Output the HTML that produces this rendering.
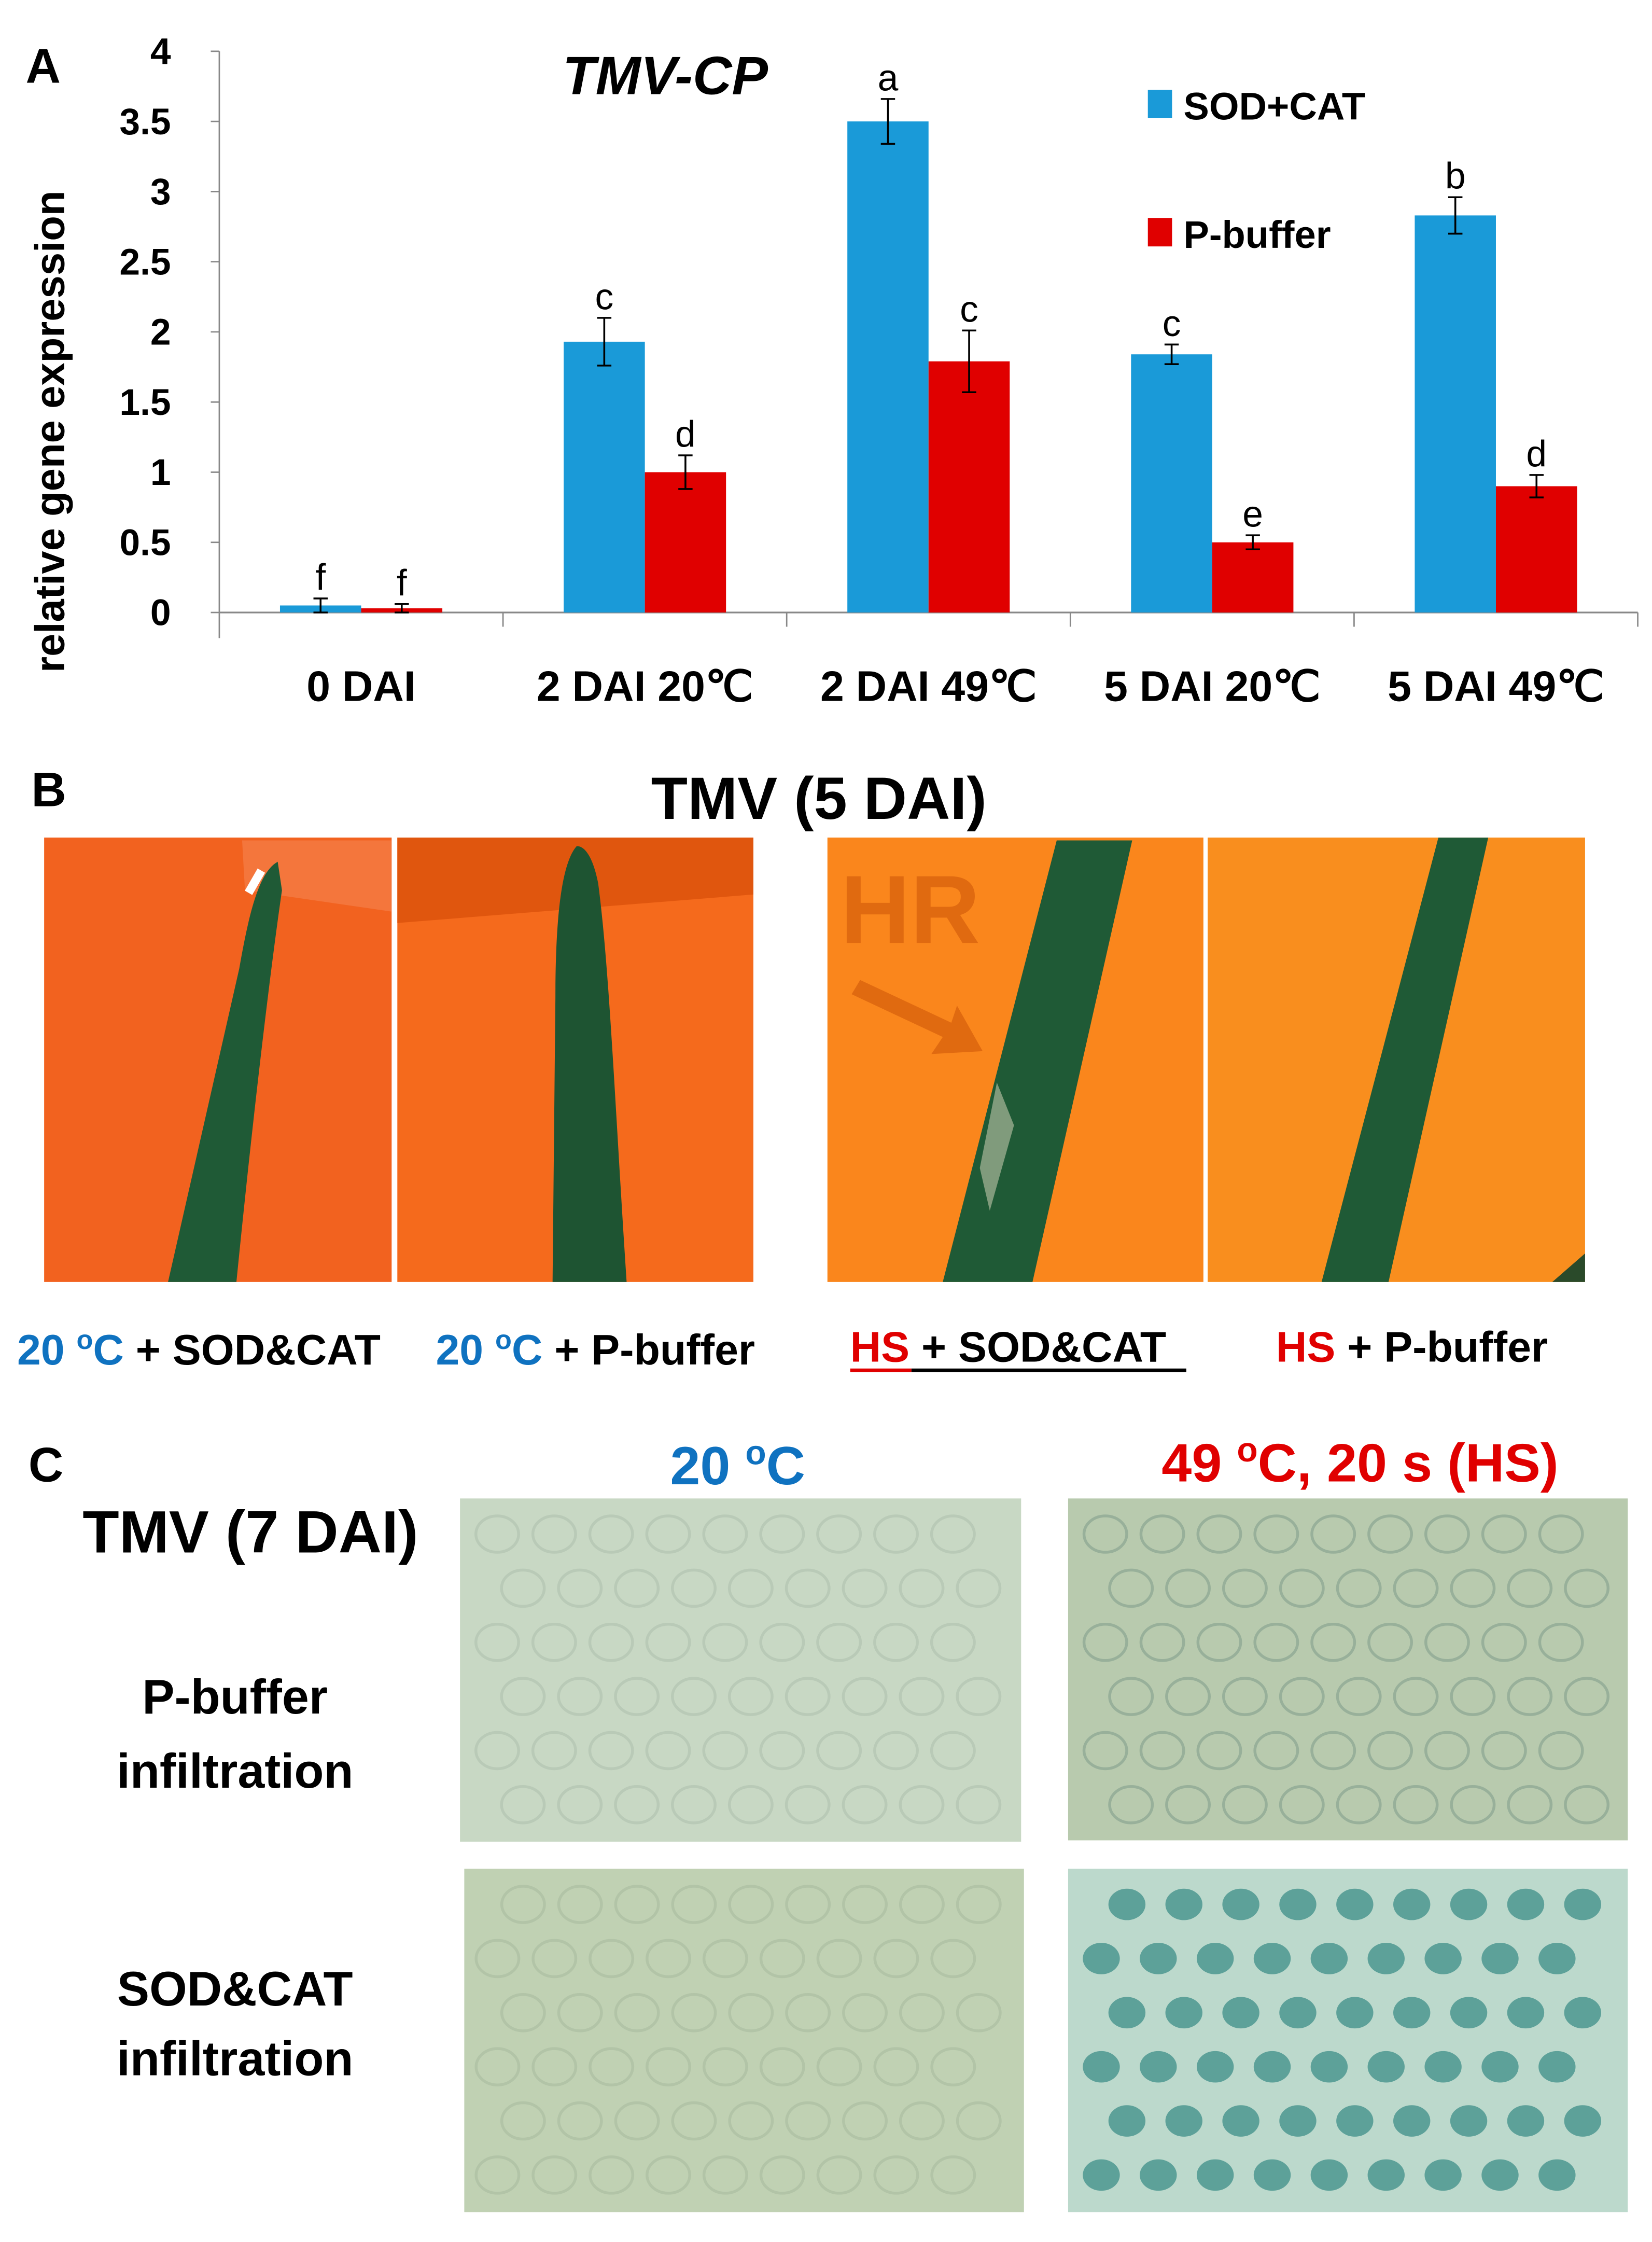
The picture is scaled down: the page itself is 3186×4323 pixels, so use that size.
<!DOCTYPE html>
<html><head><meta charset="utf-8"><style>
html,body{margin:0;padding:0;background:#fff}
svg{display:block;font-family:"Liberation Sans",sans-serif}
</style></head><body>
<svg id="fig" width="3186" height="4323" viewBox="0 0 1160 1574" preserveAspectRatio="none" xmlns="http://www.w3.org/2000/svg">
<rect width="1160" height="1574" fill="#fff"/>
<g id="chart"></g>
<text x="18" y="58" font-size="34" font-weight="bold">A</text>
<text x="395" y="66" font-size="38" font-weight="bold" font-style="italic">TMV-CP</text>
<rect x="806" y="63" width="17" height="20" fill="#1a9ad8"/>
<text x="831" y="84" font-size="27" font-weight="bold">SOD+CAT</text>
<rect x="806" y="153" width="17" height="20" fill="#e00000"/>
<text x="831" y="174" font-size="27" font-weight="bold">P-buffer</text>
<text transform="translate(45,303) rotate(-90)" text-anchor="middle" font-size="29" font-weight="bold">relative gene expression</text>

<!-- Panel B -->
<text x="22" y="566" font-size="34" font-weight="bold">B</text>
<text x="575" y="575" text-anchor="middle" font-size="42" font-weight="bold">TMV (5 DAI)</text>
<g>
<rect x="31" y="588" width="244" height="312" fill="#f2621f"/>
<polygon points="170,590 275,590 275,640 172,625" fill="#f58a5a" opacity="0.5"/>
<path d="M195,605 C182,612 175,640 168,680 L118,900 L166,900 C178,780 190,680 198,625 Z" fill="#1f5a36"/>
<rect x="176" y="610" width="6" height="18" fill="#fff" transform="rotate(30 179 619)"/>
</g>
<g>
<rect x="279" y="588" width="250" height="312" fill="#f56a1c"/>
<polygon points="279,588 529,588 529,628 279,648" fill="#e0560e"/>
<path d="M405,594 C395,605 390,640 390,700 L388,900 L440,900 C432,780 428,680 420,620 C416,600 410,594 405,594 Z" fill="#1e5432"/>
</g>
<g>
<rect x="581" y="588" width="264" height="312" fill="#fa861c"/>
<polygon points="742,590 795,590 725,900 662,900" fill="#1f5a36"/>
<polygon points="700,760 712,790 695,850 688,820" fill="#a9b69a" opacity="0.7"/>
<text x="590" y="662" font-size="68" font-weight="bold" fill="#e06a10">HR</text>
<polygon points="604,688 668,718 672,706 690,738 654,740 662,728 598,698" fill="#e06a10"/>
</g>
<g>
<rect x="848" y="588" width="265" height="312" fill="#f98e1e"/>
<polygon points="1010,588 1045,588 975,900 928,900" fill="#1f5a36"/>
<polygon points="1090,900 1113,880 1113,900" fill="#2a4a2a"/>
</g>
<text x="12" y="958" font-size="30" font-weight="bold"><tspan fill="#0f72c0">20 <tspan font-size="19" dy="-11">o</tspan><tspan dy="11">C</tspan></tspan> + SOD&amp;CAT</text>
<text x="306" y="958" font-size="30" font-weight="bold"><tspan fill="#0f72c0">20 <tspan font-size="19" dy="-11">o</tspan><tspan dy="11">C</tspan></tspan> + P-buffer</text>
<text x="597" y="956" font-size="30" font-weight="bold"><tspan fill="#e00000">HS</tspan> + SOD&amp;CAT</text>
<line x1="597" y1="962" x2="640" y2="962" stroke="#e00000" stroke-width="2.5"/>
<line x1="640" y1="962" x2="833" y2="962" stroke="#000" stroke-width="2.5"/>
<text x="896" y="956" font-size="30" font-weight="bold"><tspan fill="#e00000">HS</tspan> + P-buffer</text>

<!-- Panel C -->
<text x="20" y="1040" font-size="34" font-weight="bold">C</text>
<text x="518" y="1042" text-anchor="middle" font-size="38" font-weight="bold" fill="#0f72c0">20 <tspan font-size="24" dy="-14">o</tspan><tspan dy="14">C</tspan></text>
<text x="955" y="1040" text-anchor="middle" font-size="38" font-weight="bold" fill="#e00000">49 <tspan font-size="24" dy="-14">o</tspan><tspan dy="14">C, 20 s (HS)</tspan></text>
<text x="58" y="1090" font-size="42" font-weight="bold">TMV (7 DAI)</text>
<text x="165" y="1203" text-anchor="middle" font-size="34" font-weight="bold">P-buffer</text>
<text x="165" y="1255" text-anchor="middle" font-size="34" font-weight="bold">infiltration</text>
<text x="165" y="1408" text-anchor="middle" font-size="34" font-weight="bold">SOD&amp;CAT</text>
<text x="165" y="1457" text-anchor="middle" font-size="34" font-weight="bold">infiltration</text>
<rect x="323" y="1052" width="394" height="241" fill="#c8d8c4"/>
<rect x="750" y="1052" width="393" height="240" fill="#b8caae"/>
<rect x="326" y="1312" width="393" height="241" fill="#c0d1b3"/>
<rect x="750" y="1312" width="393" height="241" fill="#bcd9cc"/>
<g id="blobs"></g>
</svg>
<script>
const categories = ["0 DAI","2 DAI 20\u2103","2 DAI 49\u2103","5 DAI 20\u2103","5 DAI 49\u2103"];
const sodValues = [0.05, 1.93, 3.5, 1.84, 2.83];
const sodErrors = [0.05, 0.17, 0.16, 0.07, 0.13];
const sodLetters = ["f","c","a","c","b"];
const pbufValues = [0.03, 1.0, 1.79, 0.5, 0.9];
const pbufErrors = [0.03, 0.12, 0.22, 0.05, 0.08];
const pbufLetters = ["f","d","c","e","d"];
const yTicks = [0, 0.5, 1, 1.5, 2, 2.5, 3, 3.5, 4];
const yTickLabels = ["0","0.5","1","1.5","2","2.5","3","3.5","4"];

const NS = "http://www.w3.org/2000/svg";
const chart = document.getElementById("chart");
const X0 = 154, X1 = 1150, Y0 = 430, Y4 = 36, YMAX = 4;
const yScale = v => Y0 - (v / YMAX) * (Y0 - Y4);
const groupW = (X1 - X0) / categories.length;
const xCenter = i => X0 + groupW * (i + 0.5);
const barW = 57;
function mk(tag, attrs, parent) {
  const e = document.createElementNS(NS, tag);
  for (const k in attrs) e.setAttribute(k, attrs[k]);
  (parent || chart).appendChild(e);
  return e;
}
const yAxis = mk("line", {x1: X0, y1: Y4, x2: X0, y2: Y0 + 18, stroke: "#888", "stroke-width": 1});


yTicks.forEach((t, i) => {
  mk("line", {x1: X0 - 6, y1: yScale(t), x2: X0, y2: yScale(t), stroke: "#888", "stroke-width": 1});
  const tx = mk("text", {x: 120, y: yScale(t) + 9, "text-anchor": "end", "font-size": 26, "font-weight": "bold"});
  tx.textContent = yTickLabels[i];
  
  
});
const xAxis = mk("line", {x1: X0, y1: Y0, x2: X1, y2: Y0, stroke: "#888", "stroke-width": 1.2});


for (let i = 1; i <= categories.length; i++) {
  mk("line", {x1: X0 + groupW * i, y1: Y0, x2: X0 + groupW * i, y2: Y0 + 10, stroke: "#888", "stroke-width": 1});
}
function bar(x, v, err, letter, color, name) {
  const r = mk("rect", {x: x, y: yScale(v), width: barW, height: Y0 - yScale(v), fill: color});
  
  
  const cx = x + barW / 2;
  const top = yScale(v + err), bot = yScale(Math.max(0, v - err));
  mk("line", {x1: cx, y1: top, x2: cx, y2: bot, stroke: "#000", "stroke-width": 1.3});
  mk("line", {x1: cx - 5, y1: top, x2: cx + 5, y2: top, stroke: "#000", "stroke-width": 1.3});
  mk("line", {x1: cx - 5, y1: bot, x2: cx + 5, y2: bot, stroke: "#000", "stroke-width": 1.3});
  const l = mk("text", {x: cx, y: top - 6, "text-anchor": "middle", "font-size": 26});
  l.textContent = letter;
  
  
}
categories.forEach((c, i) => {
  const cx = xCenter(i);
  bar(cx - barW, sodValues[i], sodErrors[i], sodLetters[i], "#1a9ad8", "bar-sod-cat");
  bar(cx, pbufValues[i], pbufErrors[i], pbufLetters[i], "#e00000", "bar-p-buffer");
  const t = mk("text", {x: cx, y: 492, "text-anchor": "middle", "font-size": 30, "font-weight": "bold"});
  t.textContent = c;
  
  
});
// micrograph texture (decorative cell outlines)
const blobs = document.getElementById("blobs");
const cells = [[750,1312,"#3e8e88",13,0.75,true],[750,1052,"#8aa592",15,0.35,false],[323,1052,"#a9bcaa",15,0.25,false],[326,1312,"#a4b79c",15,0.25,false]];
cells.forEach(([x0,y0,col,r,op,filled]) => {
  for (let yy = y0 + 25; yy < y0 + 235; yy += 38) {
    for (let xx = x0 + 20 + ((yy / 38) % 2) * 18; xx < x0 + 378; xx += 40) {
      if (filled) mk("ellipse", {cx: xx, cy: yy, rx: r, ry: r * 0.85, fill: col, opacity: op}, blobs);
      else mk("ellipse", {cx: xx, cy: yy, rx: r, ry: r * 0.85, fill: "none", stroke: col, "stroke-width": 2, opacity: op * 2}, blobs);
    }
  }
});
</script>
</body></html>
